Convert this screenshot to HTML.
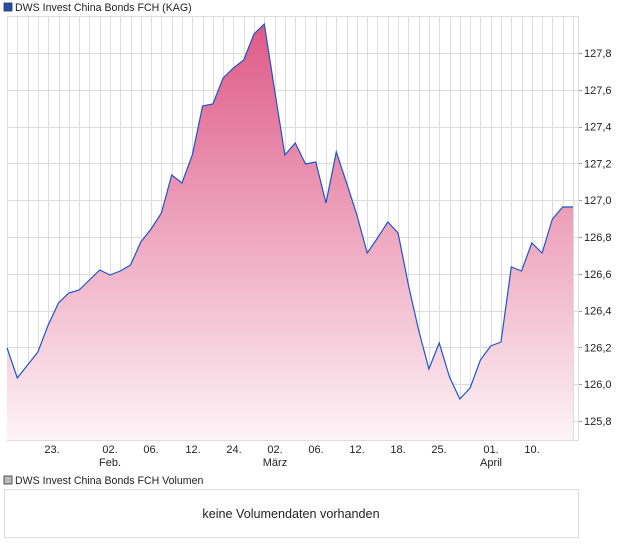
<!DOCTYPE html>
<html><head><meta charset="utf-8"><style>
body{margin:0;background:#fff;width:620px;height:546px;overflow:hidden;font-family:"Liberation Sans",sans-serif}
</style></head><body>
<svg width="620" height="546" xmlns="http://www.w3.org/2000/svg" font-family="Liberation Sans, sans-serif">
<defs>
<linearGradient id="g" x1="0" y1="20" x2="0" y2="440" gradientUnits="userSpaceOnUse">
<stop offset="0" stop-color="#de5886"/>
<stop offset="1" stop-color="#fdf3f6"/>
</linearGradient>
</defs>
<rect x="4" y="3" width="8" height="8" fill="#1f4fb0" stroke="#333" stroke-width="0.8"/>
<text x="15" y="11" font-size="10.6" fill="#222">DWS Invest China Bonds FCH (KAG)</text>
<g id="grid" stroke="#dcdcdc" stroke-width="1"></g>
<rect x="7.5" y="16.5" width="571" height="424" fill="none" stroke="#dcdcdc"/>
<path id="area" fill="url(#g)"/>
<path id="line" fill="none" stroke="#1f55c8" stroke-width="1.2"/>
<g id="ylab" font-size="11" fill="#222"></g>
<g font-size="11" fill="#222" text-anchor="middle">
<text x="52" y="453">23.</text><text x="110" y="453">02.</text><text x="110" y="466">Feb.</text>
<text x="151" y="453">06.</text><text x="193" y="453">12.</text><text x="234" y="453">24.</text>
<text x="275" y="453">02.</text><text x="275" y="466">März</text><text x="316" y="453">06.</text>
<text x="357" y="453">12.</text><text x="398" y="453">18.</text><text x="439" y="453">25.</text>
<text x="491" y="453">01.</text><text x="491" y="466">April</text><text x="532" y="453">10.</text>
</g>
<rect x="4" y="476" width="8" height="8" fill="#bbb" stroke="#333" stroke-width="0.8"/>
<text x="15" y="484" font-size="10.6" fill="#222">DWS Invest China Bonds FCH Volumen</text>
<rect x="4.5" y="489.5" width="574" height="48" fill="#fff" stroke="#dcdcdc"/>
<text x="291" y="518" font-size="12.6" fill="#222" text-anchor="middle">keine Volumendaten vorhanden</text>
</svg>
<script>
var ys=[348,378,365,352,325,303,293,290,280,270,275,271,265,242,229,213,175,183,155,106,104,78,68,60,34,24,90,155,143,164,162,203,152,183,215,253,238,222,233,285,330,369,343,377,399,388,360,346,342,267,271,243,253,219,207,207];
var n=ys.length,pts=[];
for(var i=0;i<n;i++){pts.push([573-(n-1-i)*10.29,ys[i]]);}
var d="M"+pts.map(p=>p[0].toFixed(1)+","+p[1]).join(" L");
document.getElementById("line").setAttribute("d",d);
document.getElementById("area").setAttribute("d",d+" L573,440 L7,440 Z");
var g=document.getElementById("grid"),s="";
for(var i=0;i<n;i++){var x=Math.round(pts[i][0])+0.5;s+='<line x1="'+x+'" y1="17" x2="'+x+'" y2="440"/>';}
for(var k=0;k<12;k++){var y=Math.round(53+(k-1)*36.8)+0.5;if(y<17||y>440)continue;s+='<line x1="7" y1="'+y+'" x2="578" y2="'+y+'"/><line x1="578" y1="'+y+'" x2="582" y2="'+y+'" stroke="#999"/>';}
g.innerHTML=s;
var yl=document.getElementById("ylab"),t="";
for(var k=0;k<11;k++){var v=127.8-k*0.2;var y=53+k*36.8;t+='<text x="584" y="'+(y+4)+'">'+v.toFixed(1).replace(".",",")+'</text>';}
yl.innerHTML=t;
</script>
</body></html>
